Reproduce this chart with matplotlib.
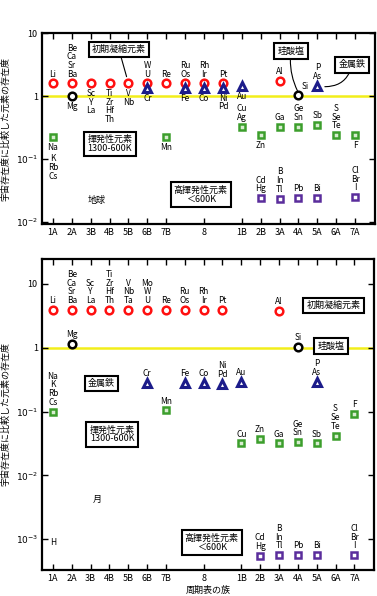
import numpy as np
import matplotlib.pyplot as plt
from matplotlib.ticker import FixedLocator, NullLocator

plt.rcParams['font.family'] = ['Noto Sans CJK JP', 'DejaVu Sans']

# --------------------------------------------------
# Group axis
# --------------------------------------------------
group_pos = [1, 2, 3, 4, 5, 6, 7, 9, 11, 12, 13, 14, 15, 16, 17]
group_labels = ['1A', '2A', '3B', '4B', '5B', '6B', '7B', '8',
                '1B', '2B', '3A', '4A', '5A', '6A', '7A']
group8_extra = [8, 10]

# --------------------------------------------------
# Earth (top panel)
# --------------------------------------------------
earth_refr_x = [1, 2, 3, 4, 5, 6, 7, 8, 9, 10, 13]
earth_refr_y = [1.6, 1.6, 1.6, 1.6, 1.6, 1.6, 1.6, 1.6, 1.6, 1.6, 1.73]
earth_refr_above = ['Li', 'Be\nCa\nSr\nBa', '', '', '', 'W\nU', 'Re',
                    'Ru\nOs', 'Rh\nIr', 'Pt', 'Al']
earth_refr_below = ['', '', 'Sc\nY\nLa', 'Ti\nZr\nHf\nTh', 'V\nNb',
                    '', '', '', '', '', '']

earth_sil_x = [2, 14]
earth_sil_y = [1.0, 1.04]
earth_sil_above = ['', '']
earth_sil_below = ['Mg', '']

earth_fe_x = [6, 8, 9, 10, 11, 15]
earth_fe_y = [1.34, 1.35, 1.35, 1.35, 1.44, 1.46]
earth_fe_above = ['', '', '', '', '', 'P\nAs']
earth_fe_below = ['Cr', 'Fe', 'Co', 'Ni\nPd', 'Au', '']

earth_vol_x = [1, 7, 11, 12, 13, 14, 15, 16, 17]
earth_vol_y = [0.224, 0.224, 0.33, 0.24, 0.33, 0.33, 0.35, 0.24, 0.24]
earth_vol_above = ['', '', 'Cu\nAg', '', 'Ga', 'Ge\nSn', 'Sb', 'S\nSe\nTe', '']
earth_vol_below = ['Na', 'Mn', '', 'Zn', '', '', '', '', 'F']

earth_hv_x = [12, 13, 14, 15, 17]
earth_hv_y = [0.024, 0.0237, 0.024, 0.024, 0.025]
earth_hv_above = ['Cd\nHg', 'B\nIn\nTl', 'Pb', 'Bi', 'Cl\nBr\nI']
earth_hv_below = ['', '', '', '', '']

# --------------------------------------------------
# Moon (bottom panel)
# --------------------------------------------------
moon_refr_x = [1, 2, 3, 4, 5, 6, 7, 8, 9, 10, 13]
moon_refr_y = [3.9, 3.9, 3.9, 3.9, 3.9, 3.9, 3.9, 3.9, 3.9, 3.9, 3.8]
moon_refr_above = ['Li', 'Be\nCa\nSr\nBa', 'Sc\nY\nLa', 'Ti\nZr\nHf\nTh',
                   'V\nNb\nTa', 'Mo\nW\nU', 'Re', 'Ru\nOs', 'Rh\nIr', 'Pt', 'Al']

moon_sil_x = [2, 14]
moon_sil_y = [1.15, 1.04]
moon_sil_above = ['Mg', 'Si']

moon_fe_x = [6, 8, 9, 10, 11, 15]
moon_fe_y = [0.284, 0.284, 0.284, 0.27, 0.29, 0.29]
moon_fe_above = ['Cr', 'Fe', 'Co', 'Ni\nPd', 'Au', 'P\nAs']

moon_vol_x = [1, 7, 11, 12, 13, 14, 15, 16, 17]
moon_vol_y = [0.1, 0.104, 0.0316, 0.0377, 0.0316, 0.033, 0.0316, 0.042, 0.093]
moon_vol_above = ['Na\nK\nRb\nCs', 'Mn', 'Cu', 'Zn', 'Ga', 'Ge\nSn', 'Sb',
                  'S\nSe\nTe', 'F']

moon_hv_x = [12, 13, 14, 15, 17]
moon_hv_y = [0.00055, 0.00056, 0.00056, 0.00057, 0.00056]
moon_hv_above = ['Cd\nHg', 'B\nIn\nTl', 'Pb', 'Bi', 'Cl\nBr\nI']

# --------------------------------------------------
# Styles
# --------------------------------------------------
RED = '#ff1010'
NAVY = '#1c1c8a'
GREEN = '#3c9e2c'
PURPLE = '#5a2d9c'
YELLOW = '#f2ee1a'

styles = {
    'refr': dict(marker='o', ms=5.5, mfc='white', mec=RED, mew=1.8),
    'sil': dict(marker='o', ms=5.5, mfc='white', mec='black', mew=1.8),
    'fe': dict(marker='^', ms=6, mfc='white', mec=NAVY, mew=2.2),
    'vol': dict(marker='s', ms=5, mfc='#d8ecd0', mec=GREEN, mew=1.8),
    'hv': dict(marker='s', ms=5, mfc='white', mec=PURPLE, mew=1.8),
}

LFS = 6
BOX = dict(boxstyle='square,pad=0.35', fc='white', ec='black', lw=1.5)


def draw_series(ax, xs, ys, style, above=None, below=None):
    ax.plot(xs, ys, linestyle='none', zorder=4, **styles[style])
    for i, (x, y) in enumerate(zip(xs, ys)):
        if above and above[i]:
            ax.annotate(above[i], (x, y), xytext=(0, 3.5), textcoords='offset points',
                        ha='center', va='bottom', fontsize=LFS, linespacing=0.95)
        if below and below[i]:
            ax.annotate(below[i], (x, y), xytext=(0, -4), textcoords='offset points',
                        ha='center', va='top', fontsize=LFS, linespacing=0.95)


def setup_axes(ax, ylim, yticks, yticklabels, xlabels=True):
    ax.set_yscale('log')
    ax.set_xlim(0.42, 18.05)
    ax.set_ylim(*ylim)
    ax.axhline(1, color=YELLOW, lw=1.8, zorder=1)
    ax.xaxis.set_major_locator(FixedLocator(group_pos))
    ax.xaxis.set_minor_locator(FixedLocator(group8_extra))
    ax.set_xticklabels(group_labels)
    ax.yaxis.set_major_locator(FixedLocator(yticks))
    ax.yaxis.set_minor_locator(NullLocator())
    ax.set_yticklabels(yticklabels)
    ax.tick_params(which='major', direction='in', length=4, width=1,
                   top=True, right=True, labelsize=6.5, pad=3)
    ax.tick_params(which='minor', direction='in', length=4, width=1,
                   top=True, bottom=False)
    for s in ax.spines.values():
        s.set_linewidth(1.6)
    ax.set_ylabel('宇宙存在度に比較した元素の存在度', fontsize=6.5, labelpad=4)


fig = plt.figure(figsize=(3.77, 5.96), dpi=100)

# --------------------------------------------------
# Top panel: Earth
# --------------------------------------------------
ax1 = fig.add_axes([0.1114, 0.624, 0.883, 0.320])
setup_axes(ax1, (0.0093, 10), [0.01, 0.1, 1, 10],
           ['$10^{-2}$', '$10^{-1}$', '1', '10'])

draw_series(ax1, earth_refr_x, earth_refr_y, 'refr', earth_refr_above, earth_refr_below)
draw_series(ax1, earth_fe_x, earth_fe_y, 'fe', earth_fe_above, earth_fe_below)
draw_series(ax1, earth_sil_x, earth_sil_y, 'sil', earth_sil_above, earth_sil_below)
draw_series(ax1, earth_vol_x, earth_vol_y, 'vol', earth_vol_above, earth_vol_below)
draw_series(ax1, earth_hv_x, earth_hv_y, 'hv', earth_hv_above, earth_hv_below)

ax1.annotate('Si', (14, 1.04), xytext=(5, 3), textcoords='offset points',
             ha='center', va='bottom', fontsize=LFS)
ax1.annotate('K\nRb\nCs', (1, 0.1), xytext=(0, 3.5), textcoords='offset points',
             ha='center', va='top', fontsize=LFS, linespacing=0.95)

ax1.annotate('初期凝縮元素', xy=(4.9, 2.05), xytext=(0.231, 0.916),
             textcoords='axes fraction', ha='center', va='center', fontsize=6.5,
             bbox=BOX, arrowprops=dict(arrowstyle='-', lw=0.8, color='black',
                                       shrinkA=0, shrinkB=0))
ax1.annotate('珪酸塩', xy=(13.95, 1.22), xytext=(0.748, 0.908),
             textcoords='axes fraction', ha='center', va='center', fontsize=6.5,
             bbox=BOX, arrowprops=dict(arrowstyle='-', lw=0.8, color='black',
                                       shrinkA=0, shrinkB=0,
                                       connectionstyle='arc3,rad=0.15'))
ax1.annotate('金属鉄', xy=(15.4, 1.42), xytext=(0.931, 0.835),
             textcoords='axes fraction', ha='center', va='center', fontsize=6.5,
             bbox=BOX, arrowprops=dict(arrowstyle='-', lw=0.8, color='black',
                                       shrinkA=0, shrinkB=0,
                                       connectionstyle='arc3,rad=-0.4'))
ax1.text(0.204, 0.421, '揮発性元素\n1300-600K', transform=ax1.transAxes,
         ha='center', va='center', fontsize=6.5, linespacing=1.0, bbox=BOX)
ax1.text(0.477, 0.154, '高揮発性元素\n＜600K', transform=ax1.transAxes,
         ha='center', va='center', fontsize=6.5, linespacing=1.0, bbox=BOX)
ax1.text(0.165, 0.126, '地球', transform=ax1.transAxes,
         ha='center', va='center', fontsize=6.5)

# --------------------------------------------------
# Bottom panel: Moon
# --------------------------------------------------
ax2 = fig.add_axes([0.1114, 0.0436, 0.881, 0.522])
setup_axes(ax2, (0.00033, 24.5), [0.001, 0.01, 0.1, 1, 10],
           ['$10^{-3}$', '$10^{-2}$', '$10^{-1}$', '1', '10'])

draw_series(ax2, moon_refr_x, moon_refr_y, 'refr', moon_refr_above)
draw_series(ax2, moon_sil_x, moon_sil_y, 'sil', moon_sil_above)
draw_series(ax2, moon_fe_x, moon_fe_y, 'fe', moon_fe_above)
draw_series(ax2, moon_vol_x, moon_vol_y, 'vol', moon_vol_above)
draw_series(ax2, moon_hv_x, moon_hv_y, 'hv', moon_hv_above)

ax2.text(1, 0.0009, 'H', ha='center', va='center', fontsize=LFS)

ax2.text(0.878, 0.850, '初期凝縮元素', transform=ax2.transAxes,
         ha='center', va='center', fontsize=6.5, bbox=BOX)
ax2.text(0.870, 0.720, '珪酸塩', transform=ax2.transAxes,
         ha='center', va='center', fontsize=6.5, bbox=BOX)
ax2.text(0.179, 0.600, '金属鉄', transform=ax2.transAxes,
         ha='center', va='center', fontsize=6.5, bbox=BOX)
ax2.text(0.211, 0.436, '揮発性元素\n1300-600K', transform=ax2.transAxes,
         ha='center', va='center', fontsize=6.5, linespacing=1.0, bbox=BOX)
ax2.text(0.511, 0.088, '高揮発性元素\n＜600K', transform=ax2.transAxes,
         ha='center', va='center', fontsize=6.5, linespacing=1.0, bbox=BOX)
ax2.text(0.166, 0.228, '月', transform=ax2.transAxes,
         ha='center', va='center', fontsize=6.5)
ax2.set_xlabel('周期表の族', fontsize=6.5, labelpad=2)

plt.savefig('out.png', dpi=100)
plt.close()
